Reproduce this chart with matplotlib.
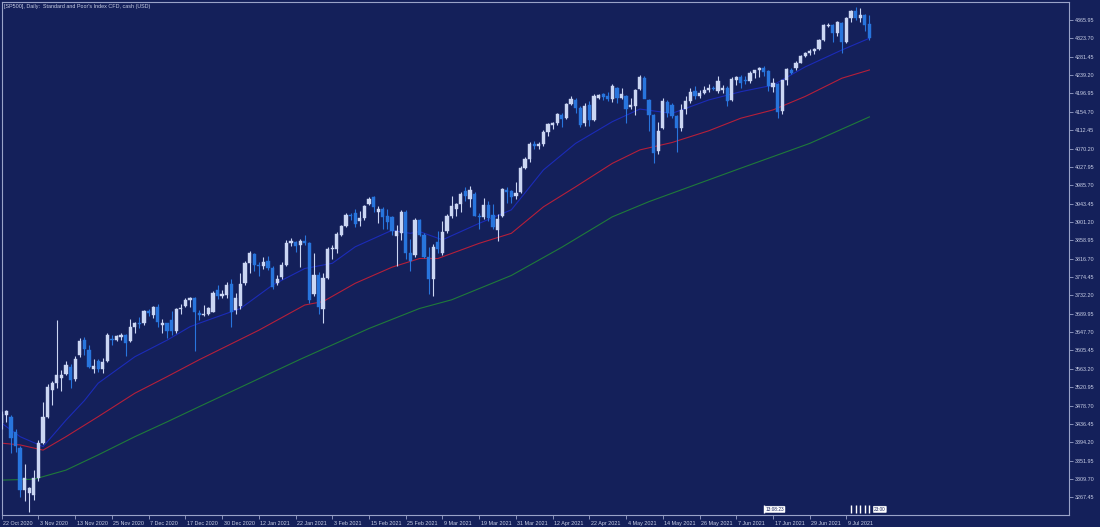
import matplotlib
matplotlib.use('Agg')
import matplotlib.pyplot as plt
import matplotlib.transforms as mtransforms

# ---------------- data ----------------
title = "[SP500], Daily:  Standard and Poor's Index CFD, cash (USD)"

date_labels = ['22 Oct 2020', '3 Nov 2020', '13 Nov 2020', '25 Nov 2020', '7 Dec 2020',
               '17 Dec 2020', '30 Dec 2020', '12 Jan 2021', '22 Jan 2021', '3 Feb 2021',
               '15 Feb 2021', '25 Feb 2021', '9 Mar 2021', '19 Mar 2021', '31 Mar 2021',
               '12 Apr 2021', '22 Apr 2021', '4 May 2021', '14 May 2021', '26 May 2021',
               '7 Jun 2021', '17 Jun 2021', '29 Jun 2021', '9 Jul 2021']
date_label_bars = [0, 8, 16, 24, 32, 40, 48, 56, 64, 72, 80, 88, 96, 104, 112, 120,
                   128, 136, 144, 152, 160, 168, 176, 184]

price_ticks = [3267.45, 3309.70, 3351.95, 3394.20, 3436.45, 3478.70, 3520.95, 3563.20,
               3605.45, 3647.70, 3689.95, 3732.20, 3774.45, 3816.70, 3858.95, 3901.20,
               3943.45, 3985.70, 4027.95, 4070.20, 4112.45, 4154.70, 4196.95, 4239.20,
               4281.45, 4323.70, 4365.95]

opens = [3439, 3457, 3453, 3418, 3380, 3284, 3277, 3273, 3311, 3392,
         3453, 3515, 3530, 3543, 3552, 3568, 3540, 3595, 3630, 3606,
         3563, 3580, 3562, 3580, 3632, 3629, 3636, 3640, 3628, 3660,
         3669, 3668, 3697, 3688, 3706, 3665, 3668, 3675, 3651, 3700,
         3707, 3721, 3725, 3692, 3688, 3690, 3695, 3745, 3730, 3734,
         3758, 3699, 3708, 3760, 3806, 3828, 3802, 3800, 3812, 3795,
         3760, 3775, 3802, 3852, 3855, 3848, 3857, 3852, 3735, 3780,
         3700, 3773, 3838, 3840, 3872, 3892, 3918, 3921, 3903, 3910,
         3942, 3958, 3925, 3932, 3915, 3913, 3868, 3876, 3925, 3829,
         3825, 3905, 3870, 3821, 3770, 3855, 3830, 3880, 3915, 3930,
         3942, 3972, 3955, 3965, 3916, 3912, 3940, 3918, 3882, 3915,
         3974, 3972, 3960, 3970, 4026, 4046, 4080, 4076, 4080, 4108,
         4124, 4130, 4148, 4140, 4172, 4182, 4164, 4128, 4170, 4136,
         4186, 4196, 4192, 4185, 4210, 4186, 4190, 4165, 4168, 4208,
         4232, 4182, 4147, 4065, 4118, 4178, 4170, 4145, 4118, 4160,
         4180, 4203, 4190, 4198, 4206, 4210, 4202, 4206, 4210, 4182,
         4229, 4235, 4228, 4225, 4244, 4250, 4255, 4248, 4212, 4218,
         4156, 4227, 4252, 4255, 4268, 4284, 4290, 4294, 4300, 4320,
         4353, 4354, 4335, 4360, 4315, 4370, 4386, 4370, 4378, 4356]
highs = [3467, 3468, 3458, 3425, 3385, 3345, 3292, 3330, 3400, 3486,
         3529, 3535, 3675, 3560, 3581, 3575, 3593, 3635, 3636, 3619,
         3586, 3585, 3589, 3645, 3642, 3641, 3645, 3643, 3678, 3670,
         3682, 3699, 3700, 3708, 3712, 3678, 3669, 3697, 3703, 3712,
         3725, 3728, 3728, 3698, 3711, 3706, 3742, 3756, 3744, 3762,
         3770, 3738, 3783, 3811, 3834, 3830, 3810, 3820, 3823, 3800,
         3778, 3808, 3859, 3865, 3858, 3862, 3870, 3855, 3830, 3785,
         3784, 3843, 3847, 3878, 3894, 3922, 3922, 3932, 3926, 3940,
         3958, 3962, 3937, 3935, 3931, 3916, 3895, 3929, 3928, 3862,
         3910, 3908, 3875, 3843, 3851, 3881, 3903, 3920, 3960, 3944,
         3970, 3981, 3983, 3970, 3921, 3956, 3950, 3942, 3919, 3980,
         3981, 3975, 3994, 4030, 4050, 4085, 4087, 4085, 4112, 4130,
         4131, 4153, 4152, 4176, 4191, 4186, 4168, 4175, 4180, 4196,
         4196, 4199, 4201, 4218, 4212, 4209, 4193, 4187, 4208, 4240,
         4238, 4185, 4150, 4131, 4186, 4182, 4175, 4148, 4172, 4190,
         4209, 4213, 4205, 4214, 4218, 4215, 4236, 4217, 4215, 4235,
         4238, 4240, 4238, 4249, 4252, 4258, 4260, 4252, 4233, 4222,
         4226, 4255, 4256, 4271, 4286, 4292, 4300, 4302, 4322, 4356,
         4358, 4357, 4364, 4362, 4374, 4388, 4395, 4394, 4380, 4378]
lows = [3425, 3440, 3370, 3372, 3268, 3259, 3234, 3262, 3305, 3390,
        3450, 3480, 3520, 3511, 3550, 3519, 3536, 3590, 3595, 3565,
        3553, 3556, 3553, 3578, 3618, 3627, 3629, 3592, 3625, 3645,
        3657, 3665, 3684, 3679, 3660, 3645, 3634, 3640, 3645, 3690,
        3705, 3705, 3605, 3676, 3685, 3688, 3693, 3723, 3725, 3726,
        3660, 3690, 3700, 3755, 3784, 3789, 3777, 3792, 3790, 3748,
        3755, 3770, 3800, 3845, 3831, 3797, 3847, 3715, 3730, 3690,
        3668, 3770, 3816, 3830, 3868, 3890, 3906, 3890, 3891, 3905,
        3940, 3923, 3899, 3885, 3885, 3870, 3800, 3860, 3815, 3789,
        3820, 3868, 3819, 3735, 3730, 3830, 3825, 3875, 3910, 3915,
        3924, 3949, 3935, 3914, 3885, 3909, 3904, 3885, 3858, 3912,
        3944, 3944, 3955, 3968, 4022, 4040, 4068, 4068, 4076, 4100,
        4114, 4125, 4120, 4138, 4170, 4151, 4119, 4123, 4123, 4134,
        4183, 4181, 4180, 4177, 4174, 4183, 4128, 4160, 4147, 4205,
        4188, 4110, 4036, 4058, 4115, 4143, 4140, 4062, 4110, 4150,
        4175, 4183, 4186, 4195, 4200, 4205, 4197, 4199, 4168, 4180,
        4216, 4209, 4219, 4221, 4233, 4234, 4238, 4203, 4200, 4140,
        4150, 4217, 4241, 4252, 4266, 4281, 4286, 4288, 4298, 4318,
        4350, 4315, 4330, 4289, 4312, 4362, 4366, 4362, 4340, 4320]
closes = [3460, 3465, 3403, 3386, 3284, 3312, 3288, 3311, 3392, 3453,
          3522, 3530, 3550, 3550, 3572, 3537, 3585, 3627, 3608, 3568,
          3570, 3562, 3578, 3640, 3629, 3638, 3641, 3622, 3660, 3669,
          3667, 3697, 3692, 3706, 3672, 3668, 3650, 3651, 3700, 3703,
          3722, 3725, 3694, 3687, 3690, 3704, 3738, 3730, 3736, 3756,
          3693, 3726, 3758, 3806, 3830, 3802, 3800, 3810, 3795, 3752,
          3770, 3802, 3852, 3858, 3845, 3857, 3852, 3722, 3780, 3705,
          3773, 3838, 3842, 3874, 3892, 3918, 3914, 3896, 3910, 3938,
          3955, 3936, 3930, 3913, 3900, 3880, 3881, 3925, 3829, 3811,
          3905, 3870, 3821, 3770, 3844, 3838, 3878, 3915, 3938, 3942,
          3966, 3962, 3975, 3916, 3912, 3940, 3910, 3890, 3908, 3976,
          3970, 3958, 3968, 4026, 4046, 4080, 4076, 4080, 4108, 4126,
          4128, 4150, 4138, 4172, 4184, 4163, 4125, 4169, 4136, 4192,
          4194, 4188, 4185, 4213, 4186, 4196, 4162, 4170, 4205, 4235,
          4184, 4148, 4060, 4110, 4180, 4152, 4145, 4117, 4159, 4180,
          4200, 4190, 4198, 4206, 4210, 4208, 4225, 4209, 4180, 4231,
          4235, 4222, 4225, 4244, 4250, 4256, 4246, 4215, 4220, 4155,
          4227, 4254, 4245, 4268, 4284, 4290, 4294, 4300, 4320, 4354,
          4354, 4335, 4361, 4315, 4370, 4386, 4370, 4378, 4355, 4325]

# moving averages at sample bars
ma_fast_bars = [0, 4, 9, 14, 18, 21, 29, 36, 41, 43, 52, 59, 66, 72, 77, 85, 89, 91,
                96, 104, 111, 118, 125, 133, 139, 146, 154, 161, 168, 175, 183, 189]
ma_fast = [3438, 3407, 3384, 3445, 3490, 3530, 3591, 3629, 3660, 3668, 3702, 3756,
           3794, 3806, 3844, 3882, 3875, 3879, 3860, 3898, 3929, 4021, 4082, 4132,
           4161, 4151, 4182, 4201, 4216, 4258, 4297, 4324]
ma_mid_bars = [0, 4, 9, 14, 21, 29, 36, 43, 56, 66, 70, 77, 85, 91, 95, 104, 111,
               118, 125, 133, 139, 146, 154, 161, 168, 175, 183, 189]
ma_mid = [3392, 3388, 3376, 3407, 3453, 3507, 3545, 3584, 3652, 3710, 3718, 3760,
          3797, 3817, 3817, 3852, 3875, 3936, 3982, 4036, 4067, 4084, 4111, 4140,
          4159, 4190, 4232, 4251]
ma_slow_bars = [0, 7, 14, 21, 29, 36, 43, 65, 80, 91, 98, 111, 122, 133, 141, 161, 176, 189]
ma_slow = [3307, 3309, 3330, 3365, 3407, 3441, 3476, 3585, 3656, 3702, 3722, 3778,
           3843, 3913, 3948, 4025, 4082, 4143]

marker_bars = [166, 185, 186, 187, 188, 189]
marker_texts = ['13:08:23', '23:00']

# ---------------- style ----------------
BG = '#14205a'
FRAME = '#9aa3c8'
TXT = '#c9cfe6'
BULL = '#cbd6f3'
BEAR = '#2875dd'
FONT = 'Liberation Sans'

fig = plt.figure(figsize=(11, 5.27), dpi=100, facecolor=BG)
W, H = 1100.0, 527.0
ax = fig.add_axes([1.5 / W, (H - 515) / H, (1069 - 1.5) / W, (515 - 2) / H])
ax.set_facecolor(BG)

ax.set_xlim(-0.05, 232.47)
ax.set_ylim(3226.7, 4407.4)

# candles
for i in range(len(closes)):
    o, h, l, c = opens[i], highs[i], lows[i], closes[i]
    up = c >= o
    col = BULL if up else BEAR
    ax.vlines(i, l, h, color=col, linewidth=0.8, zorder=3)
    bot = min(o, c)
    hgt = max(abs(c - o), 1.2)
    ax.bar(i, hgt, bottom=bot, width=0.7, color=col, edgecolor=col,
           linewidth=0.3, zorder=4)

# moving averages
ax.plot(ma_slow_bars, ma_slow, color='#1f7a3a', linewidth=0.8, zorder=2)
ax.plot(ma_mid_bars, ma_mid, color='#b51f3a', linewidth=0.8, zorder=2)
ax.plot(ma_fast_bars, ma_fast, color='#1b2bb8', linewidth=0.8, zorder=2)

# axes styling
for s in ax.spines.values():
    s.set_color(FRAME)
    s.set_linewidth(0.8)

ax.yaxis.tick_right()
ax.set_yticks(price_ticks)
ax.set_yticklabels(['%.2f' % v for v in price_ticks])
ax.tick_params(axis='y', direction='out', length=3, width=0.6, color=FRAME,
               labelsize=3.9, labelcolor=TXT, pad=1)

ax.set_xticks(date_label_bars)
ax.set_xticklabels(date_labels, ha='left')
ax.tick_params(axis='x', direction='out', length=3, width=0.6, color=FRAME,
               labelsize=3.9, labelcolor=TXT, pad=1.2)
offset = mtransforms.ScaledTranslation(1.5 / 100, 0, fig.dpi_scale_trans)
for lab in ax.get_xticklabels():
    lab.set_transform(lab.get_transform() + offset)
for lab in ax.get_xticklabels() + ax.get_yticklabels():
    lab.set_fontfamily(FONT)

ax.text(0.0023, 0.997, title, transform=ax.transAxes, ha='left', va='top',
        fontsize=3.9, color=TXT, family=FONT)

# bottom markers
bt = mtransforms.blended_transform_factory(ax.transData, ax.transAxes)
ax.vlines(marker_bars, 0.003, 0.02, transform=bt, color='white', linewidth=1.0, zorder=6)
ax.text(marker_bars[0] + 0.4, 0.011, marker_texts[0], transform=bt, ha='left', va='center',
        fontsize=3.4, color='#15205a', family=FONT, zorder=7,
        bbox=dict(boxstyle='round,pad=0.15', fc='white', ec='white', lw=0.3))
ax.text(marker_bars[-1] + 1.0, 0.011, marker_texts[1], transform=bt, ha='left', va='center',
        fontsize=3.4, color='#15205a', family=FONT, zorder=7,
        bbox=dict(boxstyle='round,pad=0.15', fc='white', ec='white', lw=0.3))

fig.savefig('out.png', dpi=100, facecolor=BG)
